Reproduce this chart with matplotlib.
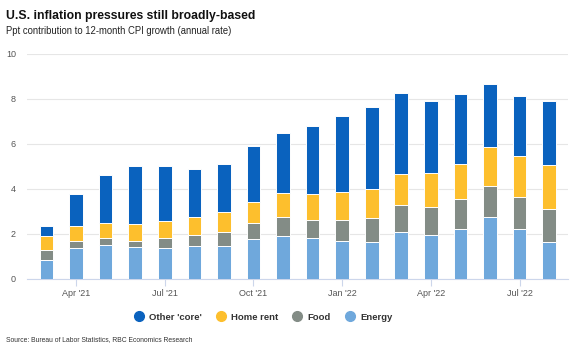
import matplotlib
matplotlib.use("Agg")
import matplotlib.pyplot as plt
from matplotlib.lines import Line2D
import numpy as np

plt.rcParams['font.family'] = ['Liberation Sans', 'DejaVu Sans']

months = ["Mar '21", "Apr '21", "May '21", "Jun '21", "Jul '21", "Aug '21", "Sep '21",
          "Oct '21", "Nov '21", "Dec '21", "Jan '22", "Feb '22", "Mar '22", "Apr '22",
          "May '22", "Jun '22", "Jul '22", "Aug '22"]
energy = [0.83, 1.39, 1.53, 1.41, 1.39, 1.48, 1.48, 1.77, 1.93, 1.81, 1.68, 1.65, 2.11, 1.97, 2.24, 2.77, 2.21, 1.66]
food = [0.48, 0.32, 0.31, 0.30, 0.45, 0.49, 0.61, 0.74, 0.83, 0.83, 0.92, 1.05, 1.20, 1.23, 1.32, 1.37, 1.44, 1.44]
rent = [0.59, 0.65, 0.64, 0.75, 0.74, 0.77, 0.89, 0.92, 1.07, 1.13, 1.27, 1.31, 1.36, 1.52, 1.57, 1.71, 1.82, 1.97]
core = [0.46, 1.41, 2.12, 2.54, 2.42, 2.16, 2.11, 2.48, 2.67, 3.05, 3.36, 3.62, 3.59, 3.20, 3.10, 2.81, 2.66, 2.85]
tick_labels = ["Apr '21", "Jul '21", "Oct '21", "Jan '22", "Apr '22", "Jul '22"]
series_names = ["Other 'core'", "Home rent", "Food", "Energy"]

colors = {"Energy": "#6FA8DC", "Food": "#838C86", "Home rent": "#FDBF2D", "Other 'core'": "#0A62BE"}

fig = plt.figure(figsize=(5.75, 3.51), dpi=100)
ax = fig.add_axes([27/575, 1 - 279/351, (568-27)/575, (279-54)/351])

x = np.arange(len(months))
bottom = np.zeros(len(months))
for name, vals in [("Energy", energy), ("Food", food), ("Home rent", rent), ("Other 'core'", core)]:
    v = np.array(vals)
    ax.bar(x, v, width=0.46, bottom=bottom, color=colors[name], edgecolor='white', linewidth=0.7, zorder=3)
    bottom += v

ax.set_xlim(-0.66, len(months) - 0.36)
ax.set_ylim(0, 10)
ax.set_yticks([0, 2, 4, 6, 8, 10])
ax.grid(axis='y', color='#E6E6E6', linewidth=0.8, zorder=0)
for s in ['top', 'right', 'left']:
    ax.spines[s].set_visible(False)
ax.spines['bottom'].set_color('#CCD6EB')
ax.spines['bottom'].set_linewidth(0.8)
ax.tick_params(axis='y', length=0, labelsize=6.5, labelcolor='#555555', pad=8)
pos = [months.index(t) for t in tick_labels]
ax.set_xticks(pos)
ax.set_xticklabels(tick_labels)
ax.tick_params(axis='x', length=5, color='#CCD6EB', labelsize=6.5, labelcolor='#555555', pad=2)

fig.text(6/575, 1 - 16/351, "U.S. inflation pressures still broadly-based", fontsize=8.8,
         fontweight='bold', color='#111111', va='center', ha='left')
fig.text(6/575, 1 - 31/351, "Ppt contribution to 12-month CPI growth (annual rate)", fontsize=6.85,
         color='#222222', va='center', ha='left')
fig.text(6/575, 1 - 340/351, "Source: Bureau of Labor Statistics, RBC Economics Research", fontsize=4.9,
         color='#333333', va='center', ha='left')

handles = [Line2D([], [], marker='o', linestyle='none', markersize=7, color=colors[n]) for n in series_names]
fig.legend(handles, series_names, loc='center', bbox_to_anchor=(261/575, 1 - 317/351), ncol=4,
           frameon=False, handletextpad=0.1, columnspacing=1.0, prop={'size': 6.8, 'weight': 'bold'},
           labelcolor='#333333')

fig.savefig("out.png", dpi=100)
